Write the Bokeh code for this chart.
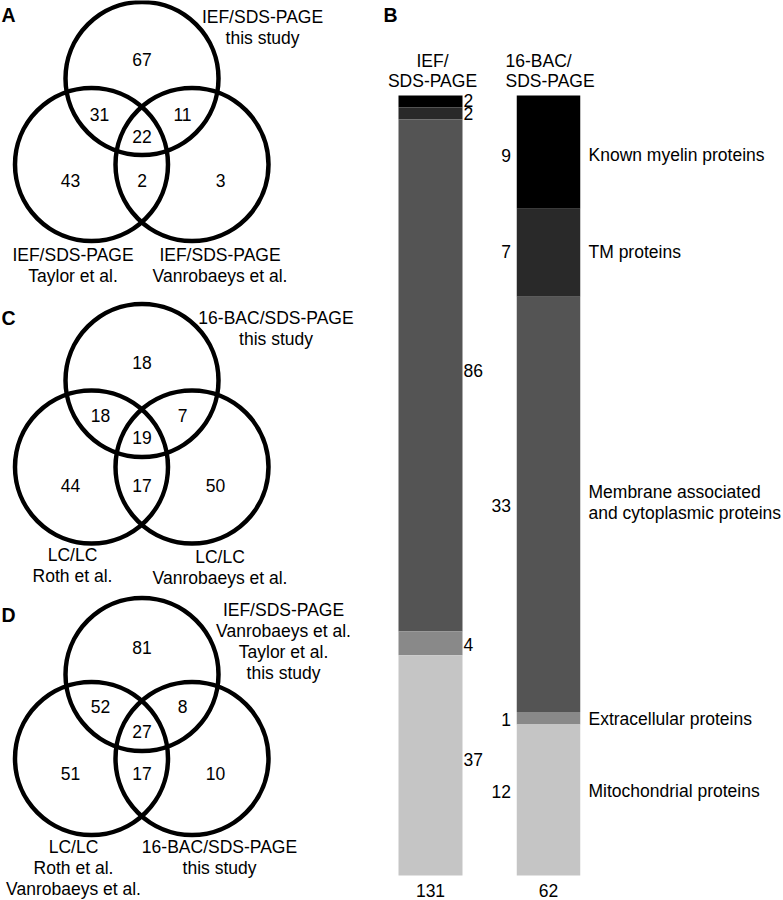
import numpy as np
from bokeh.plotting import figure
from bokeh.models import Range1d, ColumnDataSource
from bokeh.core.properties import value
from bokeh.embed import file_html
from bokeh.resources import INLINE

# ---------------- data ----------------
# region order: top only, top&left, top&right, all three, left only, left&right, right only
venn_a_counts = [67, 31, 11, 22, 43, 2, 3]
venn_a_names = [["IEF/SDS-PAGE", "this study"],
                ["IEF/SDS-PAGE", "Taylor et al."],
                ["IEF/SDS-PAGE", "Vanrobaeys et al."]]
venn_c_counts = [18, 18, 7, 19, 44, 17, 50]
venn_c_names = [["16-BAC/SDS-PAGE", "this study"],
                ["LC/LC", "Roth et al."],
                ["LC/LC", "Vanrobaeys et al."]]
venn_d_counts = [81, 52, 8, 27, 51, 17, 10]
venn_d_names = [["IEF/SDS-PAGE", "Vanrobaeys et al.", "Taylor et al.", "this study"],
                ["LC/LC", "Roth et al.", "Vanrobaeys et al."],
                ["16-BAC/SDS-PAGE", "this study"]]

bar_methods = [["IEF/", "SDS-PAGE"], ["16-BAC/", "SDS-PAGE"]]
protein_classes = ["Known myelin proteins", "TM proteins",
                   "Membrane associated\nand cytoplasmic proteins",
                   "Extracellular proteins", "Mitochondrial proteins"]
ief_counts = [2, 2, 86, 4, 37]
bac_counts = [9, 7, 33, 1, 12]
class_colors = ["#000000", "#292929", "#545454", "#898989", "#c5c5c5"]

# ---------------- layout / style ----------------
FONT = value("Liberation Sans")
FS = "17.5px"
LH = 21.3          # line spacing (px)
R = 76.5           # circle radius (px)
W, H = 783, 900
BASE_FIX = -6      # renderer places alphabetic baselines a little low

p = figure(width=W, height=H, output_backend="svg", toolbar_location=None,
           x_range=Range1d(0, W), y_range=Range1d(H, 0),
           x_axis_type=None, y_axis_type=None, min_border=0,
           background_fill_color="white", border_fill_color="white")
p.outline_line_color = None
p.grid.visible = False


def add_text(xs, ys, texts, align="center", baseline="alphabetic", size=FS,
             style="normal", y_range_name="default", line_height=1.2):
    ys = list(ys)
    if baseline == "alphabetic":
        ys = [y + BASE_FIX for y in ys]
    src = ColumnDataSource(dict(x=list(xs), y=ys, text=list(texts)))
    p.text(x="x", y="y", text="text", source=src, text_font=FONT,
           text_font_size=size, text_font_style=style, text_align=align,
           text_baseline=baseline, text_color="black", y_range_name=y_range_name,
           text_line_height=line_height)


panels = [
    dict(letter="A", letter_base=20, counts=venn_a_counts, names=venn_a_names, cy=78, dy=86,
         num_x=[141.5, 99, 182, 141.5, 70, 141.5, 220],
         num_base=[65, 120, 120, 142, 186, 186, 186],
         name_pos=[(262, 22), (72.5, 260), (219.5, 260)]),
    dict(letter="C", letter_base=323, counts=venn_c_counts, names=venn_c_names, cy=380, dy=86.5,
         num_x=[141.5, 100, 182, 141.5, 70, 141.5, 215],
         num_base=[368, 421, 421, 443, 491, 491, 491],
         name_pos=[(275.5, 323), (72, 560), (219.5, 562)]),
    dict(letter="D", letter_base=620, counts=venn_d_counts, names=venn_d_names, cy=674, dy=84,
         num_x=[141.5, 100, 182, 141.5, 70, 141.5, 215],
         num_base=[653, 712, 712, 737, 779, 779, 779],
         name_pos=[(283, 615), (73, 852), (219, 852)]),
]

for pn in panels:
    cy, dy = pn["cy"], pn["dy"]
    p.circle(x=[141.5, 91, 191.5], y=[cy, cy + dy, cy + dy], radius=R,
             fill_color=None, line_color="black", line_width=4.5)
    add_text(pn["num_x"], pn["num_base"], [str(c) for c in pn["counts"]])
    xs, ys, ts = [], [], []
    for (nx, ny), lines in zip(pn["name_pos"], pn["names"]):
        for i, ln in enumerate(lines):
            xs.append(nx); ys.append(ny + i * LH); ts.append(ln)
    add_text(xs, ys, ts)
    add_text([1], [pn["letter_base"]], [pn["letter"]], align="left",
             size="19.5px", style="bold")

# ---------------- stacked bars (panel B) ----------------
add_text([383], [20], ["B"], align="left", size="19.5px", style="bold")

BAR_TOP, BAR_BOTTOM = 95, 875


def bar_range(total):
    k = total / (BAR_BOTTOM - BAR_TOP)
    return Range1d(start=-(H - BAR_BOTTOM) * k, end=total + BAR_TOP * k)


p.extra_y_ranges = {"ief": bar_range(sum(ief_counts)), "bac": bar_range(sum(bac_counts))}


def stack(counts):
    c = np.array(counts, dtype=float)
    tops = c.sum() - np.concatenate([[0], np.cumsum(c)[:-1]])
    bottoms = tops - c
    return tops, bottoms


def nudge(ys, total, px):
    # move labels down by px screen pixels (positive = down)
    k = total / (BAR_BOTTOM - BAR_TOP)
    return [y - d * k for y, d in zip(ys, px)]


bars = [("ief", ief_counts, 430, 64), ("bac", bac_counts, 548, 63.5)]
for name, counts, bx, bw in bars:
    tops, bottoms = stack(counts)
    src = ColumnDataSource(dict(x=[bx] * len(counts), top=tops, bottom=bottoms,
                                color=class_colors))
    p.vbar(x="x", width=bw, top="top", bottom="bottom", fill_color="color",
           line_color=None, source=src, y_range_name=name)

# value labels
ief_nudge = [-1, 0, -5, 1, -6]
bac_nudge = [3, -1, 1, 1, -9]
cls_nudge = [3, -1, -2, 1, -9]
t, b = stack(ief_counts)
add_text([463] * 5, nudge((t + b) / 2, sum(ief_counts), ief_nudge),
         [str(v) for v in ief_counts], align="left", baseline="middle", y_range_name="ief")
t, b = stack(bac_counts)
add_text([510.5] * 5, nudge((t + b) / 2, sum(bac_counts), bac_nudge),
         [str(v) for v in bac_counts], align="right", baseline="middle", y_range_name="bac")
add_text([588] * 5, nudge((t + b) / 2, sum(bac_counts), cls_nudge), protein_classes,
         align="left", baseline="middle", y_range_name="bac", line_height=1.05)

# headers
add_text([432, 432], [66.7, 86], bar_methods[0])
add_text([505, 505], [66.7, 86], bar_methods[1], align="left")

# totals
add_text([430, 548], [896, 896], [str(sum(ief_counts)), str(sum(bac_counts))])

open("out.html", "w").write(file_html(p, INLINE))
